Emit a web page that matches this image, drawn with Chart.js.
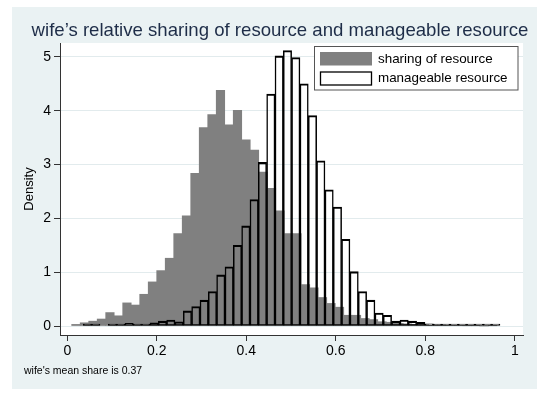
<!DOCTYPE html>
<html>
<head>
<meta charset="utf-8">
<title>wife's relative sharing of resource and manageable resource</title>
<script src="https://cdn.jsdelivr.net/npm/chart.js@4.4.1/dist/chart.umd.min.js"></script>
<style>
    html, body { margin: 0; padding: 0; background: #ffffff; }
    canvas { display: block; }
</style>
</head>
<body>
<canvas id="histChart" width="550" height="396"></canvas>
<script>
// Histogram bins (bin midpoints + density)
const sharingMid = [
    0.0193, 0.0383, 0.0573, 0.0763, 0.0953, 0.1143, 0.1333, 0.1523, 0.1713, 0.1903,
    0.2093, 0.2283, 0.2473, 0.2663, 0.2853, 0.3043, 0.3233, 0.3423, 0.3613, 0.3803,
    0.3993, 0.4183, 0.4373, 0.4563, 0.4753, 0.4943, 0.5133, 0.5323, 0.5513, 0.5703,
    0.5893, 0.6083, 0.6273, 0.6463, 0.6653, 0.6843, 0.7033, 0.7223, 0.7413, 0.7603,
    0.7793, 0.7983, 0.8173, 0.8363, 0.8553, 0.8743, 0.8933, 0.9123, 0.9313, 0.9503
];
const sharingDensity = [
    0.03, 0.06, 0.09, 0.13, 0.25, 0.19, 0.43, 0.39, 0.59, 0.82,
    1.03, 1.26, 1.72, 2.05, 2.84, 3.69, 3.93, 4.38, 3.74, 4.01,
    3.46, 3.27, 2.86, 2.56, 2.14, 1.72, 1.72, 0.77, 0.71, 0.53,
    0.42, 0.35, 0.20, 0.20, 0.14, 0.12, 0.08, 0.07, 0.05, 0.04,
    0.03, 0.03, 0.02, 0.02, 0.01, 0.01, 0.005, 0.005, 0, 0.005
];
const manageMid = [
    0.0451, 0.0637, 0.0823, 0.1010, 0.1196, 0.1382, 0.1568, 0.1754, 0.1941, 0.2127,
    0.2313, 0.2499, 0.2685, 0.2872, 0.3058, 0.3244, 0.3430, 0.3617, 0.3803, 0.3989,
    0.4175, 0.4361, 0.4548, 0.4734, 0.4920, 0.5106, 0.5292, 0.5479, 0.5665, 0.5851,
    0.6037, 0.6223, 0.6410, 0.6596, 0.6782, 0.6968, 0.7154, 0.7341, 0.7527, 0.7713,
    0.7899, 0.8086, 0.8272, 0.8458, 0.8644, 0.8830, 0.9017, 0.9203, 0.9389, 0.9575
];
const manageDensity = [
    0.01, 0.01, 0, 0.02, 0.02, 0.05, 0.03, 0.02, 0.06, 0.09,
    0.11, 0.08, 0.28, 0.36, 0.48, 0.64, 0.95, 1.10, 1.50, 1.86,
    2.35, 3.04, 4.31, 5.02, 5.12, 4.99, 4.50, 3.91, 3.07, 2.53,
    2.21, 1.61, 1.01, 0.64, 0.48, 0.24, 0.20, 0.09, 0.11, 0.09,
    0.07, 0.04, 0.015, 0.01, 0.01, 0.01, 0.01, 0.01, 0.01, 0.01
];
const xTickValues = [0, 0.2, 0.4, 0.6, 0.8, 1];
const yTickValues = [0, 1, 2, 3, 4, 5];
const seriesLabels = ['sharing of resource', 'manageable resource'];
const titleText = 'wife\u2019s relative sharing of resource and manageable resource';
const noteText = "wife's mean share is 0.37";

const FONT = "'Liberation Sans', Arial, Helvetica, sans-serif";
const GREY = '#808080';

Chart.defaults.font.family = FONT;
Chart.defaults.color = '#000000';

// Stata-like frame: panel background, white plot region, title, note and boxed legend
const stataFrame = {
    id: 'stataFrame',
    beforeDraw(chart) {
        const { ctx, chartArea } = chart;
        ctx.save();
        ctx.fillStyle = '#ffffff';
        ctx.fillRect(0, 0, chart.width, chart.height);
        ctx.fillStyle = '#eaf2f3';
        ctx.fillRect(12, 7, 525, 382);
        ctx.fillStyle = '#ffffff';
        ctx.fillRect(chartArea.left, chartArea.top, chartArea.right - chartArea.left, chartArea.bottom - chartArea.top);
        ctx.restore();
    },
    afterDraw(chart) {
        const ctx = chart.ctx;
        ctx.save();
        // title
        ctx.fillStyle = '#1e2d48';
        ctx.font = '18.6px ' + FONT;
        ctx.textAlign = 'center';
        ctx.textBaseline = 'middle';
        ctx.fillText(titleText, 280, 31);

        // note under the x axis
        ctx.fillStyle = '#000000';
        ctx.font = '10.5px ' + FONT;
        ctx.textAlign = 'left';
        ctx.fillText(noteText, 24, 371);

        // legend box
        ctx.fillStyle = '#ffffff';
        ctx.fillRect(314.5, 46.5, 203.5, 43.5);
        ctx.strokeStyle = '#555555';
        ctx.lineWidth = 1;
        ctx.strokeRect(314.5, 46.5, 203.5, 43.5);

        ctx.fillStyle = GREY;
        ctx.fillRect(320, 52, 52, 13.5);
        ctx.fillStyle = '#ffffff';
        ctx.fillRect(320.5, 72, 51, 13);
        ctx.strokeStyle = '#000000';
        ctx.lineWidth = 1.3;
        ctx.strokeRect(320.5, 72, 51, 13);

        ctx.fillStyle = '#000000';
        ctx.font = '13.4px ' + FONT;
        ctx.fillText(seriesLabels[0], 378, 59);
        ctx.fillText(seriesLabels[1], 378, 78.5);
        ctx.restore();
    }
};

const setTicks = (values) => (scale) => {
    scale.ticks = values.map(v => ({ value: v }));
};

const ctx = document.getElementById('histChart');
new Chart(ctx.getContext('2d'), {
    type: 'bar',
    data: {
        datasets: [
            {
                label: seriesLabels[1],
                data: manageMid.map((x, i) => ({ x: x, y: manageDensity[i] || null })),
                xAxisID: 'x2',
                backgroundColor: 'rgba(0,0,0,0)',
                borderColor: '#000000',
                borderWidth: { top: 1.4, left: 0.85, right: 0.85, bottom: 1 },
                borderSkipped: false,
                minBarLength: 2,
                barPercentage: 1,
                categoryPercentage: 1,
                grouped: false,
                order: 1
            },
            {
                label: seriesLabels[0],
                data: sharingMid.map((x, i) => ({ x: x, y: sharingDensity[i] })),
                xAxisID: 'x',
                backgroundColor: GREY,
                borderWidth: 0,
                barPercentage: 1,
                categoryPercentage: 1,
                grouped: false,
                order: 2
            }
        ]
    },
    options: {
        responsive: false,
        animation: false,
        layout: {
            padding: { left: 12, right: 27, top: 43, bottom: 36 }
        },
        plugins: {
            legend: { display: false },
            title: { display: false },
            tooltip: { enabled: false }
        },
        scales: {
            x: {
                type: 'linear',
                position: 'bottom',
                min: -0.0163,
                max: 1.0183,
                offset: false,
                afterBuildTicks: setTicks(xTickValues),
                afterFit: (scale) => { scale.height = 25; },
                ticks: {
                    padding: 2,
                    font: { size: 14 },
                    maxRotation: 0,
                    callback: (value) => String(value)
                },
                grid: {
                    offset: false,
                    drawOnChartArea: false,
                    drawTicks: true,
                    tickLength: 6,
                    tickColor: '#333333'
                },
                border: { display: true, color: '#333333', width: 1 }
            },
            x2: {
                type: 'linear',
                display: false,
                min: -0.0163,
                max: 1.0183,
                offset: false,
                grid: { offset: false }
            },
            y: {
                type: 'linear',
                min: -0.167,
                max: 5.26,
                afterBuildTicks: setTicks(yTickValues),
                afterFit: (scale) => { scale.width = 48; },
                ticks: {
                    padding: 3,
                    font: { size: 14 },
                    callback: (value) => String(value)
                },
                grid: {
                    color: '#e2ebed',
                    lineWidth: 1,
                    drawTicks: true,
                    tickLength: 6,
                    tickColor: '#333333'
                },
                border: { display: true, color: '#333333', width: 1 },
                title: {
                    display: true,
                    text: 'Density',
                    font: { size: 13 },
                    padding: { top: 10, bottom: 0 }
                }
            }
        }
    },
    plugins: [stataFrame]
});
</script>
</body>
</html>
